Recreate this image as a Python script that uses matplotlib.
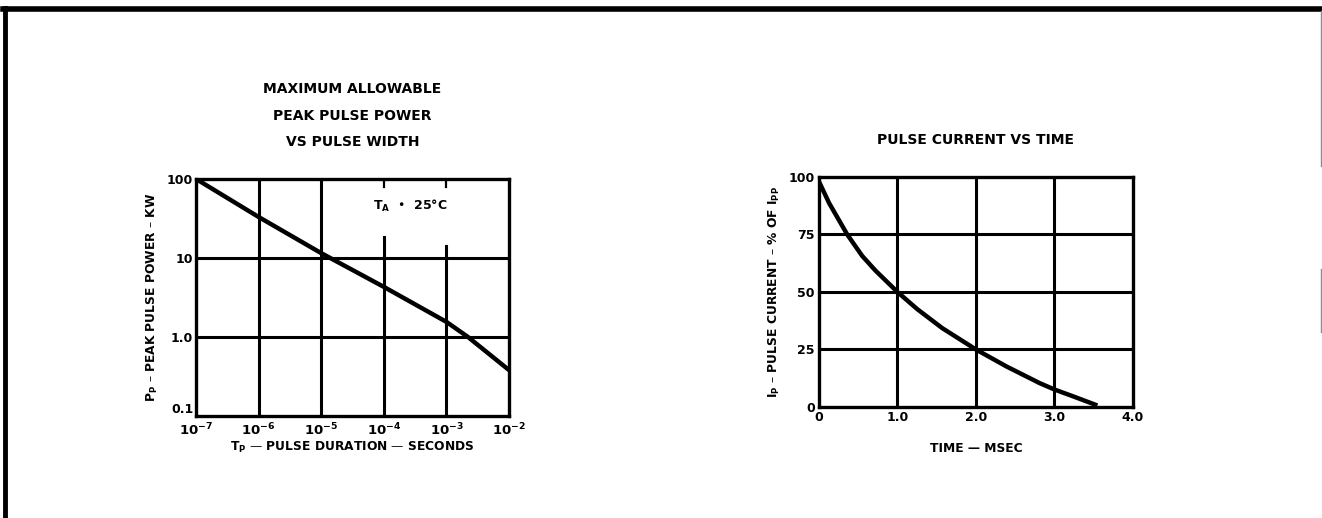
#Recreate the two datasheet curves: peak pulse power and pulse current decay
import numpy as np
import matplotlib.pyplot as plt
from matplotlib.lines import Line2D

# left chart: max allowable peak pulse power vs pulse width (log-log)
pulseWidth = [1e-7, 1e-6, 1e-5, 1e-4, 1e-3, 2.2e-3, 1e-2]
peakPower = [100, 33, 11.5, 4.3, 1.55, 1.0, 0.38]
widthTicks = [1e-7, 1e-6, 1e-5, 1e-4, 1e-3, 1e-2]
widthLabels = ["$\\mathbf{10^{-7}}$", "$\\mathbf{10^{-6}}$", "$\\mathbf{10^{-5}}$",
               "$\\mathbf{10^{-4}}$", "$\\mathbf{10^{-3}}$", "$\\mathbf{10^{-2}}$"]
powerTicks = [0.1, 1.0, 10, 100]
powerLabels = ["0.1", "1.0", "10", "100"]

# right chart: pulse current vs time
timeMs = [0, 0.13, 0.36, 0.55, 0.72, 1.0, 1.25, 1.57, 2.0, 2.39, 2.81, 3.0, 3.24, 3.52]
currentPct = [98, 88.6, 75, 65.7, 59.3, 50, 42.6, 34.3, 25, 17.6, 10.4, 7.6, 4.6, 1.0]
timeTicks = [0, 1.0, 2.0, 3.0, 4.0]
timeLabels = ["0", "1.0", "2.0", "3.0", "4.0"]
currentTicks = [0, 25, 50, 75, 100]

plt.rcParams['font.family'] = 'DejaVu Sans'
plt.rcParams['mathtext.default'] = 'bf'
fontT = dict(fontweight="heavy", fontsize=10)
fontL = dict(fontweight="heavy", fontsize=8.8)
fontK = dict(fontweight="heavy", fontsize=9)

fig = plt.figure(figsize=(13.22, 5.18), dpi=100)

#page frame
fig.add_artist(Line2D([0.002, 1.0], [0.982, 0.982], color="black", lw=4))
fig.add_artist(Line2D([0.004, 0.004], [0.0, 0.985], color="black", lw=3.5))
fig.add_artist(Line2D([0.9992, 0.9992], [0.68, 0.978], color="0.55", lw=1))
fig.add_artist(Line2D([0.9992, 0.9992], [0.36, 0.48], color="0.55", lw=1))

#---- left plot
ax1 = fig.add_axes([0.1483, 0.197, 0.2368, 0.4575])
ax1.set_xscale("log")
ax1.set_yscale("log")
ax1.set_xlim(1e-7, 1e-2)
ax1.set_ylim(0.1, 100)
for x in [1e-6, 1e-5]:
    ax1.axvline(x, color="black", lw=2.2)
ax1.axvline(1e-4, ymax=0.755, color="black", lw=2.2)
ax1.axvline(1e-3, ymax=0.717, color="black", lw=2.2)
ax1.axvline(1e-4, ymin=0.966, ymax=0.99, color="black", lw=1.6)
ax1.axvline(1e-3, ymin=0.966, ymax=0.99, color="black", lw=1.6)
for y in [1.0, 10]:
    ax1.axhline(y, color="black", lw=2.2)
ax1.plot(pulseWidth, peakPower, color="black", lw=3.2, solid_capstyle="butt")
ax1.set_xticks(widthTicks)
ax1.set_xticklabels(widthLabels, fontsize=9.5)
ax1.set_yticks(powerTicks)
ax1.set_yticklabels(powerLabels, **fontK)
ax1.minorticks_off()
ax1.tick_params(axis="y", length=0, pad=2)
ax1.tick_params(axis="x", length=0, pad=4)
# 0.1 sits just above the 10^-7 label, as on the sheet
ax1.get_yticklabels()[0].set_va("bottom")
ax1.text(2.6e-4, 46, "T$_\\mathbf{A}$  •  25°C", ha="center", va="center", **fontK)
ax1.set_xlabel("T$_\\mathbf{P}$ — PULSE DURATION — SECONDS", labelpad=1, **fontL)
ax1.set_ylabel("P$_\\mathbf{P}$ – PEAK PULSE POWER – KW", labelpad=5, **fontL)
ax1.set_title("MAXIMUM ALLOWABLE\nPEAK PULSE POWER\nVS PULSE WIDTH",
              pad=24, linespacing=2.1, **fontT)

#---- right plot
ax2 = fig.add_axes([0.6195, 0.2143, 0.2375, 0.444])
ax2.set_xlim(0, 4.0)
ax2.set_ylim(0, 100)
for x in [1.0, 2.0, 3.0]:
    ax2.axvline(x, color="black", lw=2.2)
for y in [25, 50, 75]:
    ax2.axhline(y, color="black", lw=2.2)
ax2.plot(timeMs, currentPct, color="black", lw=3.2)
ax2.set_xticks(timeTicks)
ax2.set_xticklabels(timeLabels, **fontK)
ax2.set_yticks(currentTicks)
ax2.set_yticklabels([str(v) for v in currentTicks], **fontK)
ax2.tick_params(length=0, pad=3)
ax2.set_xlabel("TIME — MSEC", labelpad=13, **fontL)
ax2.set_ylabel("I$_\\mathbf{P}$ – PULSE CURRENT – % OF I$_\\mathbf{PP}$", labelpad=5, **fontL)
ax2.set_title("PULSE CURRENT VS TIME", pad=24, **fontT)

for ax in [ax1, ax2]:
    for s in ax.spines.values():
        s.set_linewidth(2.4)

fig.savefig("out.png", dpi=100)
